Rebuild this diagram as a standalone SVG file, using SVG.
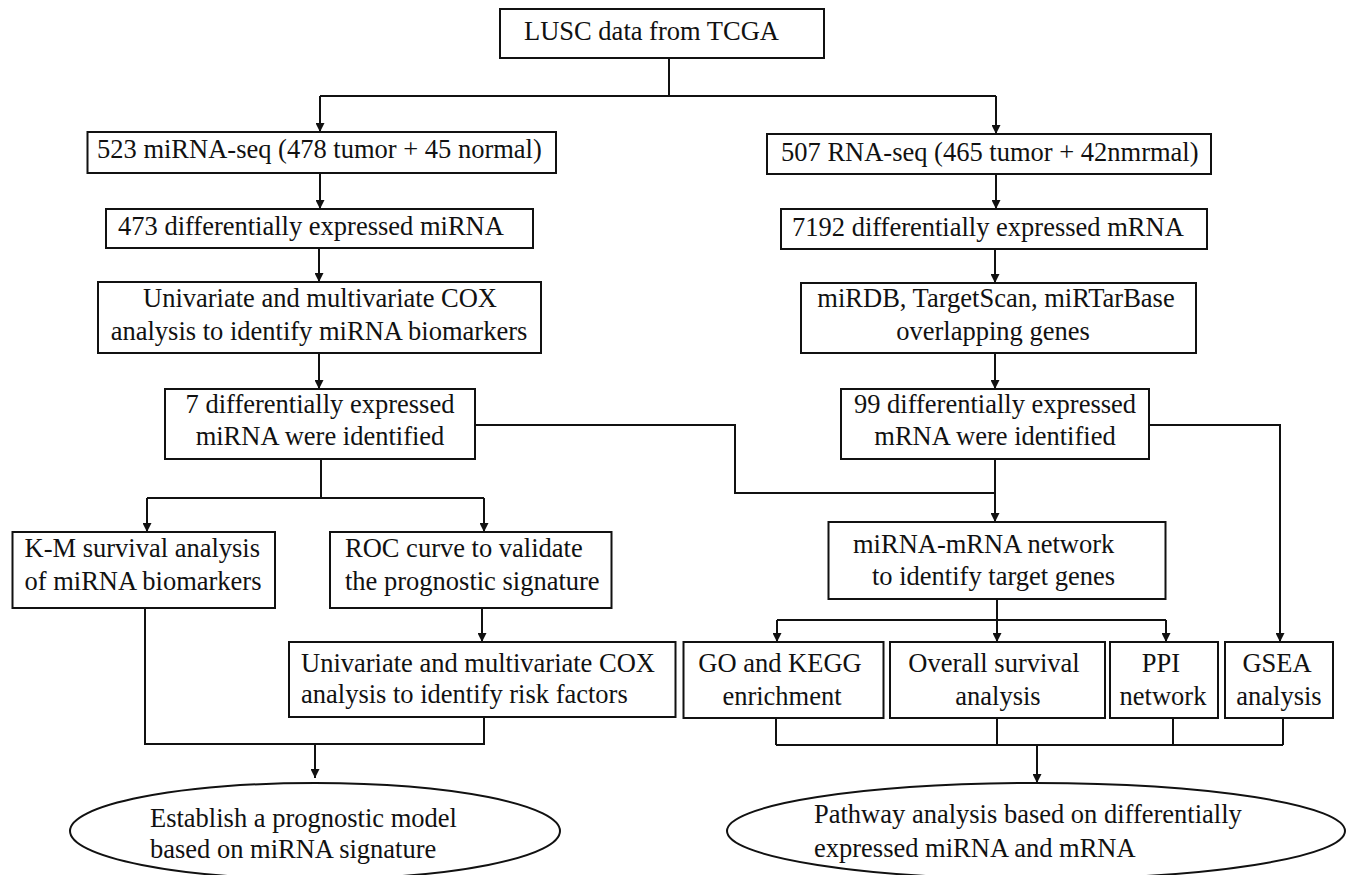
<svg xmlns="http://www.w3.org/2000/svg" width="1352" height="875" viewBox="0 0 1352 875">
<style>
.box{fill:#fff;stroke:#111;stroke-width:2}
.t{font-family:"Liberation Serif","Times New Roman",serif;font-size:26.5px;fill:#111}
.c{text-anchor:middle}
.ln{fill:none;stroke:#111;stroke-width:2}
.ar{fill:none;stroke:#111;stroke-width:2;marker-end:url(#ah)}
</style>
<defs>
<marker id="ah" viewBox="0 0 10 10" refX="10" refY="5" markerWidth="10" markerHeight="9" markerUnits="userSpaceOnUse" orient="auto">
<path d="M0,0 L10,5 L0,10 z" fill="#111"/>
</marker>
</defs>
<rect width="1352" height="875" fill="#fff"/>
<g id="connectors">
<path class="ln" d="M669,58 V96 M320,96 H996"/>
<path class="ar" d="M320,96 V132"/>
<path class="ar" d="M996,96 V134"/>
<path class="ar" d="M320,173 V209"/>
<path class="ar" d="M996,174 V209"/>
<path class="ar" d="M319,248 V282"/>
<path class="ar" d="M995,249 V283"/>
<path class="ar" d="M319,353 V389"/>
<path class="ar" d="M995,353 V389"/>
<path class="ln" d="M475,425 H735 V493 H995"/>
<path class="ar" d="M995,459 V522"/>
<path class="ar" d="M1149,425 H1280 V642"/>
<path class="ln" d="M321,459 V498 M147,498 H484"/>
<path class="ar" d="M147,498 V532"/>
<path class="ar" d="M484,498 V532"/>
<path class="ar" d="M482,608 V642"/>
<path class="ln" d="M145,608 V744 H484 V717"/>
<path class="ar" d="M315,744 V778"/>
<path class="ar" d="M997,599 V642"/>
<path class="ln" d="M777,620 H1166"/>
<path class="ar" d="M777,620 V642"/>
<path class="ar" d="M1166,620 V642"/>
<path class="ln" d="M776,718 V745 M997,718 V745 M1173,718 V745 M1283,718 V745 M776,745 H1283"/>
<path class="ar" d="M1037,745 V783"/>
</g>
<g id="n-lusc"><rect class="box" x="500" y="9" width="324" height="49"/><text class="t" x="524" y="40">LUSC data from TCGA</text></g>
<g id="n-mirnaseq"><rect class="box" x="87.5" y="132" width="468.5" height="41"/><text class="t" x="97" y="158">523 miRNA-seq (478 tumor + 45 normal)</text></g>
<g id="n-rnaseq"><rect class="box" x="767" y="134" width="444" height="40"/><text class="t" x="781" y="161">507 RNA-seq (465 tumor + 42nmrmal)</text></g>
<g id="n-473"><rect class="box" x="106" y="209" width="427" height="39"/><text class="t" x="118" y="235">473 differentially expressed miRNA</text></g>
<g id="n-7192"><rect class="box" x="781" y="209" width="426" height="40"/><text class="t" x="792" y="236">7192 differentially expressed mRNA</text></g>
<g id="n-cox1"><rect class="box" x="98" y="282" width="443" height="71"/><text class="t c" x="320" y="307">Univariate and multivariate COX</text><text class="t c" x="319" y="340">analysis to identify miRNA biomarkers</text></g>
<g id="n-mirdb"><rect class="box" x="801" y="283" width="395" height="70"/><text class="t c" x="996" y="307">miRDB, TargetScan, miRTarBase</text><text class="t c" x="993" y="340">overlapping genes</text></g>
<g id="n-7mirna"><rect class="box" x="165" y="389" width="310" height="70"/><text class="t c" x="320" y="413">7 differentially expressed</text><text class="t c" x="320" y="445">miRNA were identified</text></g>
<g id="n-99mrna"><rect class="box" x="841" y="389" width="308" height="70"/><text class="t c" x="995" y="413">99 differentially expressed</text><text class="t c" x="995" y="445">mRNA were identified</text></g>
<g id="n-km"><rect class="box" x="12.5" y="532" width="262.5" height="76"/><text class="t" x="24.5" y="557">K-M survival analysis</text><text class="t" x="24.5" y="590">of miRNA biomarkers</text></g>
<g id="n-roc"><rect class="box" x="330" y="532" width="281.5" height="76"/><text class="t" x="345" y="557">ROC curve to validate</text><text class="t" x="345" y="590">the prognostic signature</text></g>
<g id="n-network"><rect class="box" x="828.5" y="522" width="337" height="77"/><text class="t" x="853" y="553">miRNA-mRNA network</text><text class="t" x="872" y="585">to identify target genes</text></g>
<g id="n-cox2"><rect class="box" x="289" y="642" width="386.5" height="75"/><text class="t" x="301" y="672">Univariate and multivariate COX</text><text class="t" x="301" y="703">analysis to identify risk factors</text></g>
<g id="n-go"><rect class="box" x="683.5" y="642" width="200" height="76"/><text class="t c" x="780" y="672">GO and KEGG</text><text class="t c" x="782" y="705">enrichment</text></g>
<g id="n-os"><rect class="box" x="890" y="642" width="215" height="76"/><text class="t c" x="994" y="672">Overall survival</text><text class="t c" x="998" y="705">analysis</text></g>
<g id="n-ppi"><rect class="box" x="1110" y="642" width="108" height="76"/><text class="t c" x="1161" y="672">PPI</text><text class="t c" x="1163" y="705">network</text></g>
<g id="n-gsea"><rect class="box" x="1225" y="642" width="108" height="76"/><text class="t c" x="1277" y="672">GSEA</text><text class="t c" x="1279" y="705">analysis</text></g>
<g id="n-model"><ellipse class="box" cx="315" cy="831" rx="245" ry="48"/><text class="t" x="150" y="827">Establish a prognostic model</text><text class="t" x="150" y="858">based on miRNA signature</text></g>
<g id="n-pathway"><ellipse class="box" cx="1036" cy="831" rx="309" ry="48"/><text class="t" x="814" y="823">Pathway analysis based on differentially</text><text class="t" x="814" y="857">expressed miRNA and mRNA</text></g>
</svg>
